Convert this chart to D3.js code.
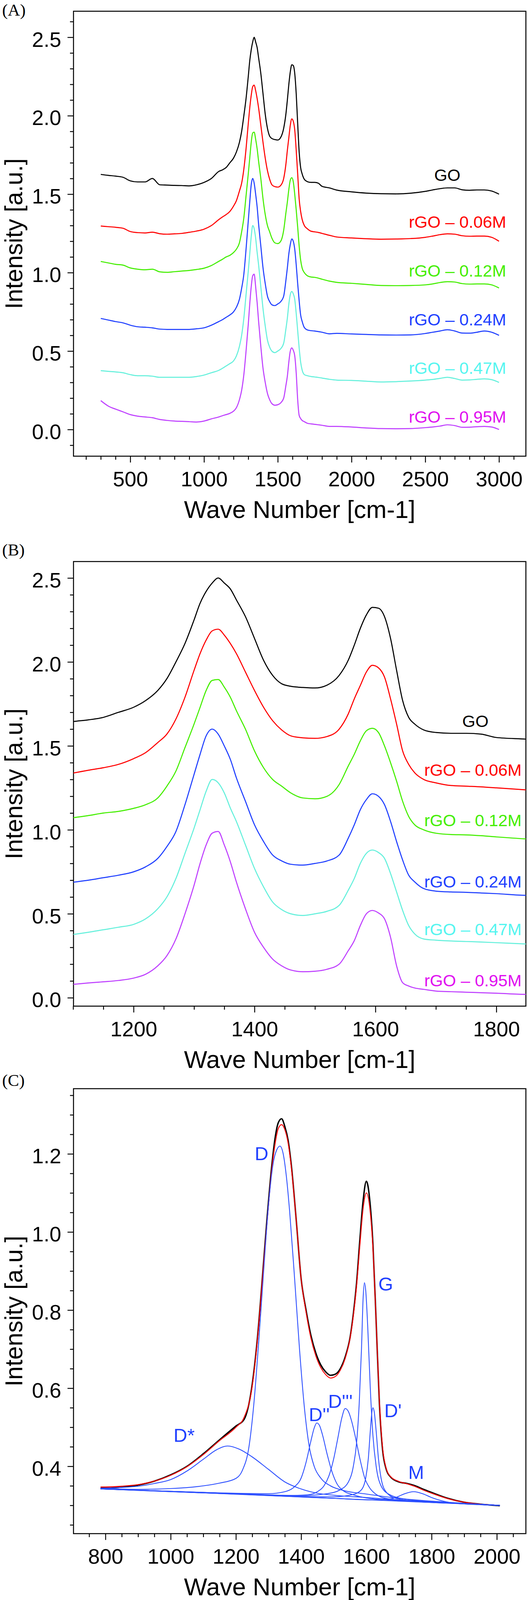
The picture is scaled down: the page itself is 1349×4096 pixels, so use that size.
<!DOCTYPE html>
<html><head><meta charset="utf-8">
<script src="https://cdn.jsdelivr.net/npm/d3@7"></script>
<style>html,body{margin:0;padding:0;background:#fff} svg{display:block}</style>
</head><body>
<svg id="chart" width="1349" height="4096" viewBox="0 0 1500 4556"></svg>
<script>
// ---------- Panels A & B: Raman spectra (shared data) ----------
const waveNumbers = [300,350,400,450,500,550,600,650,700,750,
  800,850,900,950,1000,1050,1100,1125,1150,1175,
  1200,1220,1240,1255,1270,1285,1300,1310,1320,1330,
  1340,1350,1360,1370,1385,1400,1415,1430,1445,1460,
  1480,1500,1520,1540,1555,1565,1575,1585,1595,1605,
  1615,1625,1635,1645,1655,1665,1680,1700,1725,1750,
  1775,1800,1850,1900,2000,2100,2200,2300,2400,2500,
  2550,2600,2650,2700,2750,2800,2850,2900,2950,3000];
const seriesGO = [1.626,1.620,1.615,1.608,1.585,1.578,1.578,1.600,1.560,1.558,
  1.556,1.555,1.553,1.560,1.575,1.600,1.645,1.655,1.670,1.700,
  1.730,1.770,1.830,1.900,2.000,2.110,2.250,2.350,2.420,2.470,
  2.500,2.470,2.435,2.370,2.270,2.140,2.010,1.920,1.870,1.855,
  1.848,1.845,1.862,1.920,2.010,2.100,2.200,2.280,2.325,2.320,
  2.270,2.140,1.950,1.770,1.670,1.630,1.595,1.580,1.575,1.575,
  1.570,1.550,1.540,1.526,1.515,1.507,1.503,1.502,1.506,1.518,
  1.527,1.535,1.540,1.540,1.528,1.525,1.527,1.527,1.520,1.500];
const seriesR006 = [1.297,1.293,1.289,1.283,1.262,1.255,1.253,1.258,1.248,1.245,
  1.247,1.250,1.257,1.265,1.277,1.300,1.338,1.355,1.370,1.390,
  1.424,1.460,1.520,1.570,1.660,1.790,1.950,2.050,2.130,2.185,
  2.195,2.160,2.110,2.050,1.940,1.830,1.730,1.650,1.595,1.560,
  1.548,1.545,1.556,1.600,1.690,1.780,1.860,1.940,1.980,1.965,
  1.910,1.780,1.630,1.470,1.390,1.340,1.300,1.280,1.264,1.260,
  1.256,1.250,1.238,1.227,1.221,1.216,1.213,1.214,1.217,1.225,
  1.233,1.242,1.247,1.245,1.235,1.232,1.233,1.233,1.225,1.200];
const seriesR012 = [1.071,1.062,1.053,1.048,1.030,1.022,1.018,1.022,1.005,1.002,
  1.006,1.010,1.014,1.020,1.028,1.045,1.072,1.085,1.100,1.110,
  1.128,1.150,1.190,1.260,1.350,1.490,1.630,1.730,1.830,1.890,
  1.895,1.850,1.790,1.710,1.600,1.470,1.370,1.300,1.260,1.220,
  1.190,1.185,1.200,1.270,1.380,1.450,1.530,1.590,1.605,1.580,
  1.500,1.400,1.290,1.170,1.080,1.030,1.000,0.980,0.972,0.970,
  0.965,0.958,0.946,0.938,0.932,0.925,0.918,0.917,0.918,0.922,
  0.928,0.937,0.942,0.940,0.930,0.927,0.928,0.928,0.922,0.902];
const seriesR024 = [0.708,0.698,0.688,0.680,0.665,0.655,0.652,0.648,0.640,0.638,
  0.638,0.638,0.638,0.642,0.648,0.665,0.688,0.700,0.715,0.730,
  0.750,0.780,0.830,0.900,0.990,1.150,1.330,1.450,1.560,1.600,
  1.570,1.500,1.420,1.310,1.170,1.030,0.930,0.850,0.815,0.795,
  0.790,0.800,0.815,0.850,0.950,1.030,1.120,1.180,1.215,1.200,
  1.150,1.050,0.930,0.820,0.730,0.690,0.650,0.635,0.630,0.628,
  0.624,0.620,0.610,0.613,0.609,0.606,0.603,0.602,0.603,0.612,
  0.620,0.628,0.636,0.628,0.615,0.614,0.620,0.628,0.620,0.600];
const seriesR047 = [0.375,0.371,0.367,0.362,0.350,0.343,0.343,0.340,0.333,0.333,
  0.333,0.333,0.333,0.338,0.347,0.362,0.377,0.390,0.405,0.420,
  0.437,0.470,0.530,0.600,0.710,0.860,1.010,1.120,1.230,1.300,
  1.280,1.220,1.130,1.050,0.910,0.770,0.660,0.570,0.525,0.500,
  0.490,0.500,0.515,0.550,0.640,0.710,0.800,0.860,0.880,0.865,
  0.830,0.740,0.630,0.520,0.430,0.380,0.350,0.343,0.338,0.335,
  0.332,0.328,0.320,0.315,0.313,0.308,0.303,0.305,0.309,0.315,
  0.319,0.326,0.333,0.325,0.315,0.316,0.320,0.323,0.318,0.300];
const seriesR095 = [0.184,0.150,0.130,0.113,0.095,0.085,0.080,0.075,0.064,0.058,
  0.054,0.052,0.050,0.048,0.054,0.068,0.080,0.088,0.095,0.103,
  0.117,0.140,0.190,0.250,0.350,0.500,0.670,0.800,0.910,0.980,
  0.990,0.910,0.810,0.690,0.530,0.390,0.300,0.230,0.190,0.165,
  0.155,0.158,0.170,0.200,0.280,0.340,0.430,0.500,0.520,0.505,
  0.470,0.360,0.190,0.090,0.070,0.058,0.050,0.040,0.036,0.033,
  0.030,0.027,0.020,0.020,0.016,0.010,0.006,0.005,0.006,0.012,
  0.016,0.022,0.030,0.025,0.014,0.015,0.018,0.020,0.016,0.000];
const seriesNames = ["GO","rGO \u2013 0.06M","rGO \u2013 0.12M","rGO \u2013 0.24M","rGO \u2013 0.47M","rGO \u2013 0.95M"];
const seriesValues = [seriesGO, seriesR006, seriesR012, seriesR024, seriesR047, seriesR095];

const yTicksAB = [0.0, 0.5, 1.0, 1.5, 2.0, 2.5];
const xTicksA = [500, 1000, 1500, 2000, 2500, 3000];
const xTicksB = [1200, 1400, 1600, 1800];

// ---------- Panel C: peak fit ----------
const fitWave = [785,800,850,900,950,1000,1050,1100,1150,1200,
  1225,1250,1265,1280,1295,1310,1320,1330,1340,1350,
  1360,1370,1385,1400,1415,1430,1445,1460,1475,1490,
  1505,1520,1535,1550,1560,1570,1580,1590,1600,1610,
  1620,1630,1640,1650,1660,1675,1700,1725,1750,1775,
  1800,1850,1900,1950,2009];
const measured = [0.344,0.344,0.347,0.352,0.362,0.378,0.400,0.432,0.468,0.503,
  0.520,0.610,0.720,0.870,1.030,1.170,1.240,1.280,1.290,1.270,
  1.235,1.170,1.030,0.880,0.800,0.735,0.690,0.660,0.642,0.633,
  0.636,0.650,0.680,0.730,0.790,0.870,0.980,1.080,1.130,1.085,
  0.970,0.770,0.560,0.440,0.395,0.372,0.360,0.356,0.350,0.341,
  0.333,0.318,0.308,0.303,0.299];
const fitted = [0.347,0.347,0.349,0.353,0.362,0.377,0.399,0.430,0.466,0.500,
  0.525,0.605,0.715,0.865,1.020,1.160,1.225,1.265,1.275,1.262,
  1.228,1.165,1.030,0.880,0.795,0.728,0.683,0.653,0.635,0.626,
  0.630,0.646,0.676,0.728,0.785,0.862,0.965,1.060,1.100,1.065,
  0.960,0.770,0.565,0.445,0.397,0.373,0.361,0.355,0.348,0.339,
  0.331,0.317,0.308,0.303,0.300];
const baseline = [[785,0.343],[2009,0.300]];
const peakDstar = [[785,0.344],[850,0.346],[900,0.349],[950,0.356],[1000,0.366],[1050,0.388],[1100,0.418],[1140,0.442],[1175,0.452],[1210,0.444],[1250,0.424],[1300,0.392],[1350,0.360],[1400,0.342],[1450,0.331],[1500,0.326],[1600,0.320],[1700,0.314],[1850,0.307],[2009,0.300]];
const peakD = [[785,0.344],[900,0.341],[1000,0.343],[1100,0.350],[1150,0.357],[1200,0.369],[1220,0.390],[1240,0.450],[1255,0.560],[1270,0.720],[1285,0.900],[1300,1.070],[1315,1.180],[1325,1.210],[1335,1.220],[1345,1.200],[1355,1.140],[1365,1.050],[1380,0.880],[1395,0.700],[1410,0.550],[1425,0.450],[1440,0.400],[1460,0.370],[1490,0.350],[1530,0.338],[1600,0.329],[1700,0.318],[1850,0.308],[2009,0.300]];
const peakD2 = [[785,0.342],[1000,0.336],[1200,0.331],[1300,0.330],[1350,0.335],[1380,0.348],[1400,0.370],[1415,0.410],[1430,0.465],[1440,0.498],[1448,0.511],[1456,0.505],[1465,0.482],[1480,0.430],[1495,0.385],[1510,0.355],[1530,0.337],[1560,0.327],[1600,0.319],[1700,0.312],[1850,0.306],[2009,0.300]];
const peakD3 = [[785,0.342],[1000,0.335],[1200,0.329],[1350,0.325],[1420,0.327],[1450,0.335],[1470,0.350],[1485,0.375],[1500,0.420],[1512,0.470],[1525,0.525],[1535,0.548],[1545,0.540],[1555,0.515],[1565,0.480],[1580,0.420],[1595,0.370],[1610,0.345],[1630,0.328],[1660,0.318],[1750,0.310],[1900,0.304],[2009,0.300]];
const peakG = [[785,0.342],[1000,0.336],[1200,0.330],[1400,0.325],[1480,0.330],[1520,0.340],[1545,0.360],[1560,0.400],[1570,0.460],[1578,0.560],[1585,0.700],[1590,0.830],[1594,0.870],[1598,0.850],[1604,0.760],[1612,0.600],[1620,0.480],[1630,0.400],[1645,0.350],[1670,0.328],[1720,0.316],[1850,0.307],[2009,0.300]];
const peakDprime = [[785,0.342],[1000,0.336],[1200,0.330],[1400,0.323],[1500,0.322],[1560,0.328],[1585,0.340],[1598,0.370],[1606,0.420],[1612,0.490],[1617,0.540],[1620,0.550],[1624,0.540],[1630,0.490],[1637,0.420],[1645,0.370],[1660,0.335],[1690,0.318],[1750,0.311],[1850,0.306],[2009,0.300]];
const peakM = [[785,0.342],[1200,0.329],[1500,0.318],[1620,0.314],[1660,0.315],[1690,0.320],[1715,0.329],[1745,0.335],[1775,0.329],[1800,0.320],[1830,0.312],[1880,0.305],[2009,0.300]];
const peakNames = ["D*","D","D''","D'''","G","D'","M"];
const peakSeries = [peakDstar, peakD, peakD2, peakD3, peakG, peakDprime, peakM];
const yTicksC = [0.4, 0.6, 0.8, 1.0, 1.2];
const xTicksC = [800, 1000, 1200, 1400, 1600, 1800, 2000];

// ---------- layout & style ----------
const SANS = "'Liberation Sans', Arial, Helvetica, sans-serif";
const SERIF = "'Liberation Serif', 'Times New Roman', serif";
const lineColors = ["#000000","#ff0000","#44ee00","#2040ff","#66f0dc","#bf40ff"];
const labelColors = ["#000000","#ff0000","#44ee00","#2040ff","#55f5f0","#e010f0"];
const BLUE = "#2a4dff";

const svg = d3.select('#chart');

function makePanel(cfg) {
  const g = svg.append('g');
  const x = d3.scaleLinear().domain(cfg.xDomain).range([cfg.left, cfg.right]);
  const y = d3.scaleLinear().domain(cfg.yDomain).range([cfg.bottom, cfg.top]);
  svg.append('clipPath').attr('id', 'clip' + cfg.id).append('rect')
    .attr('x', cfg.left).attr('y', cfg.top)
    .attr('width', cfg.right - cfg.left).attr('height', cfg.bottom - cfg.top);

  const yMinor = d3.axisLeft(y).tickValues(cfg.yMinor).tickSize(10).tickFormat('');
  const xMinor = d3.axisBottom(x).tickValues(cfg.xMinor).tickSize(10).tickFormat('');
  g.append('g').attr('transform', `translate(${cfg.left},0)`).call(yMinor);
  g.append('g').attr('transform', `translate(0,${cfg.bottom})`).call(xMinor);
  const yAxis = d3.axisLeft(y).tickValues(cfg.yTicks).tickSize(17).tickPadding(18).tickFormat(d3.format('.1f'));
  const xAxis = d3.axisBottom(x).tickValues(cfg.xTicks).tickSize(18).tickPadding(25).tickFormat(d3.format('d'));
  const gy = g.append('g').attr('transform', `translate(${cfg.left},0)`).call(yAxis);
  const gx = g.append('g').attr('transform', `translate(0,${cfg.bottom})`).call(xAxis);
  g.selectAll('.domain').remove();
  g.selectAll('.tick line').attr('stroke', '#000').attr('stroke-width', 2.6);
  g.selectAll('.tick text').attr('fill', '#000').attr('font-family', SANS).attr('font-size', 60);
  gy.selectAll('.tick text').attr('dy', '0.44em');
  gx.selectAll('.tick text').attr('dy', '0.71em');

  g.append('rect').attr('x', cfg.left).attr('y', cfg.top)
    .attr('width', cfg.right - cfg.left).attr('height', cfg.bottom - cfg.top)
    .attr('fill', 'none').attr('stroke', '#000').attr('stroke-width', 2.8);

  g.append('text').attr('x', (cfg.left + cfg.right) / 2).attr('y', cfg.bottom + 176)
    .attr('text-anchor', 'middle').attr('font-family', SANS).attr('font-size', 70)
    .attr('fill', '#000').text('Wave Number [cm-1]');
  g.append('text').attr('transform', `translate(63,${(cfg.top + cfg.bottom) / 2}) rotate(-90)`)
    .attr('text-anchor', 'middle').attr('font-family', SANS).attr('font-size', 69)
    .attr('fill', '#000').text('Intensity [a.u.]');
  g.append('text').attr('x', 6).attr('y', cfg.letterY)
    .attr('font-family', SERIF).attr('font-size', 48).attr('fill', '#000').text(cfg.letter);

  const plot = g.append('g').attr('clip-path', `url(#clip${cfg.id})`);
  return {x, y, g, plot};
}

function minorRange(a, b, step) {
  const out = [];
  const n0 = Math.ceil(a / step - 1e-9), n1 = Math.floor(b / step + 1e-9);
  for (let n = n0; n <= n1; n++) out.push(+(n * step).toFixed(4));
  return out;
}

// ----- Panel A -----
const A = makePanel({
  id: 'A', letter: '(A)', letterY: 45,
  left: 209, right: 1497, top: 32, bottom: 1299,
  xDomain: [115, 3182], yDomain: [-0.170, 2.666],
  xTicks: xTicksA, yTicks: yTicksAB,
  xMinor: minorRange(115, 3182, 100).filter(v => v % 500 !== 0),
  yMinor: minorRange(-0.17, 2.666, 0.1).filter(v => Math.abs(v * 2 - Math.round(v * 2)) > 1e-6)
});
const lineA = d3.line().x(d => A.x(d[0])).y(d => A.y(d[1])).curve(d3.curveMonotoneX);
seriesValues.forEach((vals, i) => {
  A.plot.append('path').datum(d3.zip(waveNumbers, vals))
    .attr('d', lineA).attr('fill', 'none').attr('stroke', lineColors[i])
    .attr('stroke-width', 3).attr('stroke-linejoin', 'round');
});
const labA = [[1236, 515, 'start'], [1441, 649, 'end'], [1441, 787, 'end'], [1441, 926, 'end'], [1441, 1064, 'end'], [1441, 1203, 'end']];
seriesNames.forEach((name, i) => {
  A.g.append('text').attr('x', labA[i][0]).attr('y', labA[i][1]).attr('text-anchor', labA[i][2])
    .attr('font-family', SANS).attr('font-size', 48).attr('fill', labelColors[i]).text(name);
});

// ----- Panel B -----
const B = makePanel({
  id: 'B', letter: '(B)', letterY: 1582,
  left: 209, right: 1497, top: 1599, bottom: 2865,
  xDomain: [1100.6, 1848.8], yDomain: [-0.050, 2.598],
  xTicks: xTicksB, yTicks: yTicksAB,
  xMinor: minorRange(1100, 1848.8, 50).filter(v => v % 200 !== 0),
  yMinor: minorRange(-0.05, 2.598, 0.1).filter(v => Math.abs(v * 2 - Math.round(v * 2)) > 1e-6)
});
const lineB = d3.line().x(d => B.x(d[0])).y(d => B.y(d[1])).curve(d3.curveMonotoneX);
seriesValues.forEach((vals, i) => {
  B.plot.append('path').datum(d3.zip(waveNumbers, vals).filter(d => d[0] >= 1050 && d[0] <= 1900))
    .attr('d', lineB).attr('fill', 'none').attr('stroke', lineColors[i])
    .attr('stroke-width', 3).attr('stroke-linejoin', 'round');
});
const labB = [[1316, 2070, 'start'], [1485, 2209, 'end'], [1485, 2352, 'end'], [1485, 2527, 'end'], [1485, 2663, 'end'], [1485, 2809, 'end']];
seriesNames.forEach((name, i) => {
  B.g.append('text').attr('x', labB[i][0]).attr('y', labB[i][1]).attr('text-anchor', labB[i][2])
    .attr('font-family', SANS).attr('font-size', 48).attr('fill', labelColors[i]).text(name);
});

// ----- Panel C -----
const C = makePanel({
  id: 'C', letter: '(C)', letterY: 3092,
  left: 209, right: 1497, top: 3100, bottom: 4367,
  xDomain: [702, 2089], yDomain: [0.2276, 1.367],
  xTicks: xTicksC, yTicks: yTicksC,
  xMinor: minorRange(702, 2089, 50).filter(v => v % 200 !== 0),
  yMinor: minorRange(0.2276, 1.367, 0.05).filter(v => Math.abs(v * 5 - Math.round(v * 5)) > 1e-6)
});
const lineC = d3.line().x(d => C.x(d[0])).y(d => C.y(d[1])).curve(d3.curveMonotoneX);
C.plot.append('path').datum(d3.zip(fitWave, measured)).attr('d', lineC)
  .attr('fill', 'none').attr('stroke', '#000').attr('stroke-width', 4);
C.plot.append('path').datum(d3.zip(fitWave, fitted)).attr('d', lineC)
  .attr('fill', 'none').attr('stroke', '#ff0000').attr('stroke-width', 2.6);
C.plot.append('path').datum(baseline).attr('d', lineC)
  .attr('fill', 'none').attr('stroke', BLUE).attr('stroke-width', 2.4);
peakSeries.forEach(pts => {
  C.plot.append('path').datum(pts).attr('d', lineC)
    .attr('fill', 'none').attr('stroke', BLUE).attr('stroke-width', 2.4);
});
const labC = [[494, 4106], [725, 3303], [879, 4047], [934, 4009], [1077, 3675], [1094, 4035], [1162, 4211]];
peakNames.forEach((name, i) => {
  C.g.append('text').attr('x', labC[i][0]).attr('y', labC[i][1])
    .attr('font-family', SANS).attr('font-size', 54).attr('fill', '#1f3fff').text(name);
});
</script>
</body></html>
